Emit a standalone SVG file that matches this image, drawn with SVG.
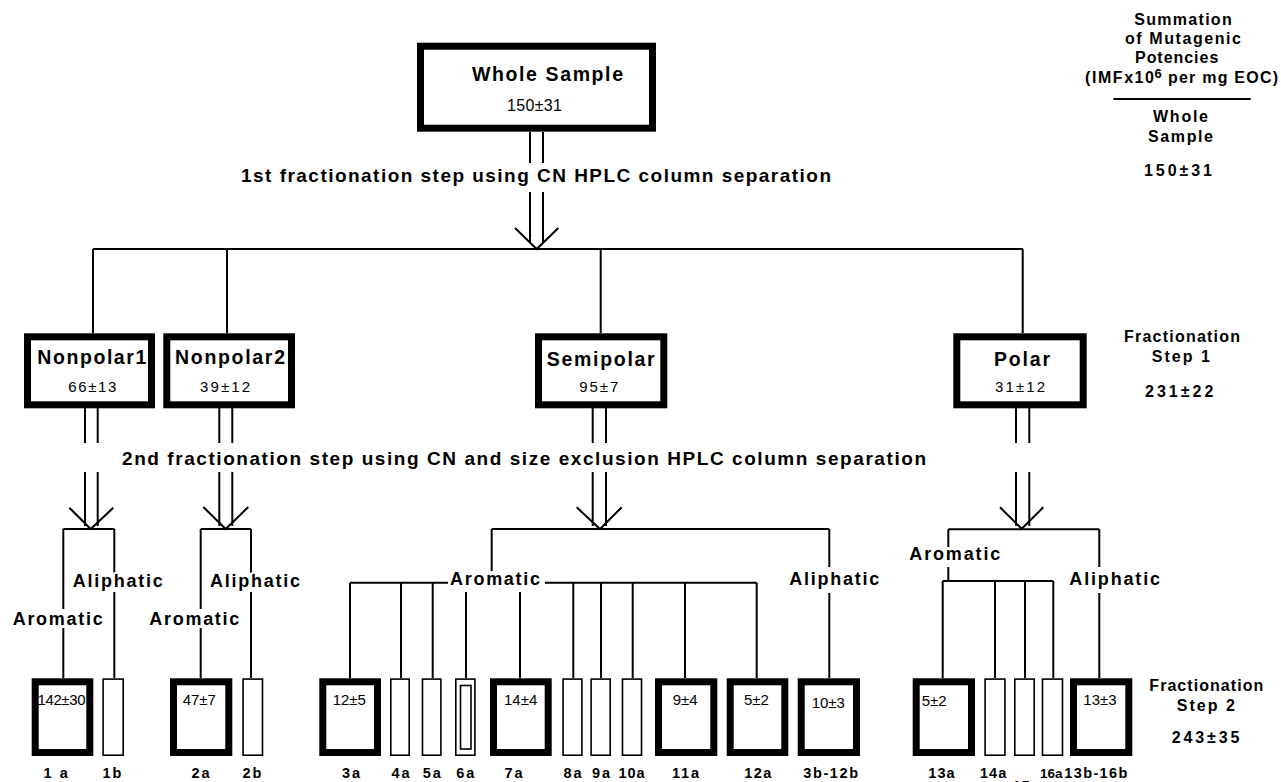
<svg xmlns="http://www.w3.org/2000/svg" width="1281" height="782" viewBox="0 0 1281 782">
<style>
.t{font-family:"Liberation Sans",Arial,Helvetica,sans-serif;fill:#000}
.b{font-weight:bold}
.tt{font-size:19.5px;font-weight:bold}
.st{font-size:19px;font-weight:bold}
.lb{font-size:18px;font-weight:bold}
.num{font-size:15px}
.sm{font-size:14.5px;font-weight:bold;letter-spacing:2px}
.rc{font-size:16px;font-weight:bold}
.h{paint-order:stroke;stroke:#fff;stroke-width:4px;stroke-linejoin:round}
.thick{fill:#fff;stroke:#000;stroke-width:7}
.thin{fill:#fff;stroke:#000;stroke-width:1.6}
.ln{stroke:#000;stroke-width:2;fill:none}
</style>
<rect width="1281" height="782" fill="#fff"/>

<g id="connectors" class="ln">
  <path d="M530 132V163M543 132V163M530 192V243M543 192V243"/>
  <polyline points="515,228 536.7,249 558.3,228"/>
  <path d="M93 249H1023"/>
  <path d="M93 249V333M227 249V333M600.7 249V333M1022.7 249V333"/>
  <path d="M85 408V443M97.7 408V443M85 472V526M97.7 472V526"/>
  <polyline points="69.3,507.7 90.7,529 113.3,507.7"/>
  <path d="M63.3 529H114.3M63.3 529V609M63.3 628V678M114.3 529V573M114.3 592V678"/>
  <path d="M219.3 408V443M232.3 408V443M219.3 472V526M232.3 472V526"/>
  <polyline points="203.3,507 225.7,529 248.3,507"/>
  <path d="M200.7 529H251M200.7 529V609M200.7 628V678M251 529V573M251 592V678"/>
  <path d="M592.7 408V443M606 408V443M592.7 472V526M606 472V526"/>
  <polyline points="576.7,507.3 600,529 621.7,507.3"/>
  <path d="M491.7 529H829.3M491.7 529V571"/>
  <path d="M350 582.7H448M545 582.7H756.7"/>
  <path d="M350 582.7V678M401 582.7V678M432.7 582.7V678M466 592V678M520 592V678M573.3 582.7V678M601 582.7V678M632.7 582.7V678M685 582.7V678M756.7 582.7V678"/>
  <path d="M829.3 529V567M829.3 593V678"/>
  <path d="M1016 408V443M1029.3 408V443M1016 472V526M1029.3 472V526"/>
  <polyline points="1000,507.3 1021.7,528.8 1043.3,507.3"/>
  <path d="M948.3 529.3H1099.3M948.3 529.3V547M948.3 567V581"/>
  <path d="M942.7 581H1053.3M942.7 581V678M995 581V678M1025 581V678M1053.3 581V678"/>
  <path d="M1099.3 529.3V567M1099.3 593V678"/>
</g>

<g id="step-labels">
  <text class="t st" x="241" y="182" textLength="590" lengthAdjust="spacing">1st fractionation step using CN HPLC column separation</text>
  <text class="t st" x="122" y="465" textLength="804" lengthAdjust="spacing">2nd fractionation step using CN and size exclusion HPLC column separation</text>
</g>

<g id="branch-labels">
  <text class="t lb h" x="72.7" y="587" textLength="90" lengthAdjust="spacing">Aliphatic</text>
  <text class="t lb h" x="12.7" y="625" textLength="90" lengthAdjust="spacing">Aromatic</text>
  <text class="t lb h" x="210" y="587" textLength="90" lengthAdjust="spacing">Aliphatic</text>
  <text class="t lb h" x="149.3" y="625" textLength="90" lengthAdjust="spacing">Aromatic</text>
  <text class="t lb h" x="450" y="585" textLength="90" lengthAdjust="spacing">Aromatic</text>
  <text class="t lb h" x="789.3" y="585" textLength="90" lengthAdjust="spacing">Aliphatic</text>
  <text class="t lb h" x="909.3" y="560" textLength="91" lengthAdjust="spacing">Aromatic</text>
  <text class="t lb h" x="1069.3" y="585" textLength="90.7" lengthAdjust="spacing">Aliphatic</text>
</g>

<g id="whole-sample">
  <rect class="thick" x="420.5" y="46.2" width="232" height="82"/>
  <text class="t tt" x="472" y="81" textLength="151" lengthAdjust="spacing">Whole Sample</text>
  <text class="t" style="font-size:16px" x="507" y="111" textLength="55" lengthAdjust="spacing">150±31</text>
</g>

<g id="nonpolar1">
  <rect class="thick" x="27.5" y="336.8" width="124" height="68"/>
  <text class="t tt" x="37.3" y="364" textLength="109" lengthAdjust="spacing">Nonpolar1</text>
  <text class="t num" x="68.3" y="391.7" textLength="48" lengthAdjust="spacing">66±13</text>
</g>
<g id="nonpolar2">
  <rect class="thick" x="166.8" y="336.8" width="124.7" height="68"/>
  <text class="t tt" x="175" y="364" textLength="110" lengthAdjust="spacing">Nonpolar2</text>
  <text class="t num" x="200" y="391.7" textLength="50" lengthAdjust="spacing">39±12</text>
</g>
<g id="semipolar">
  <rect class="thick" x="538.5" y="336.8" width="125.3" height="68"/>
  <text class="t tt" x="546.7" y="365.7" textLength="108" lengthAdjust="spacing">Semipolar</text>
  <text class="t num" x="579.3" y="392" textLength="39" lengthAdjust="spacing">95±7</text>
</g>
<g id="polar">
  <rect class="thick" x="956.8" y="336.8" width="126.4" height="68"/>
  <text class="t tt" x="994" y="365.7" textLength="56" lengthAdjust="spacing">Polar</text>
  <text class="t num" x="995" y="392" textLength="50" lengthAdjust="spacing">31±12</text>
</g>

<g id="f1a"><rect class="thick" x="35.2" y="681.8" width="54.6" height="70.7"/><text class="t num" x="37.5" y="705" textLength="48" lengthAdjust="spacing">142±30</text><text class="t sm" x="56.7" y="778" text-anchor="middle">1 a</text></g>
<g id="f1b"><rect class="thin" x="103.1" y="679.1" width="20.1" height="76.1"/><text class="t sm" x="113" y="778" text-anchor="middle">1b</text></g>
<g id="f2a"><rect class="thick" x="173.5" y="681.8" width="55.3" height="70.7"/><text class="t num" x="182.7" y="705">47±7</text><text class="t sm" x="201.5" y="778" text-anchor="middle">2a</text></g>
<g id="f2b"><rect class="thin" x="243.1" y="679.1" width="19.4" height="76.1"/><text class="t sm" x="253" y="778" text-anchor="middle">2b</text></g>
<g id="f3a"><rect class="thick" x="322.8" y="681.8" width="54.7" height="70.7"/><text class="t num" x="332.7" y="705">12±5</text><text class="t sm" x="352" y="778" text-anchor="middle">3a</text></g>
<g id="f4a"><rect class="thin" x="390.8" y="679.1" width="18.4" height="76.1"/><text class="t sm" x="401.5" y="778" text-anchor="middle">4a</text></g>
<g id="f5a"><rect class="thin" x="422.5" y="679.1" width="18.4" height="76.1"/><text class="t sm" x="432.7" y="778" text-anchor="middle">5a</text></g>
<g id="f6a"><rect class="thin" x="455.8" y="679.1" width="19.1" height="76.1"/><rect class="thin" x="460.5" y="685.5" width="10.5" height="63.5"/><text class="t sm" x="466.3" y="778" text-anchor="middle">6a</text></g>
<g id="f7a"><rect class="thick" x="493.5" y="681.8" width="54.7" height="70.7"/><text class="t num" x="504" y="705">14±4</text><text class="t sm" x="514.5" y="778" text-anchor="middle">7a</text></g>
<g id="f8a"><rect class="thin" x="563.1" y="679.1" width="18.8" height="76.1"/><text class="t sm" x="573.5" y="778" text-anchor="middle">8a</text></g>
<g id="f9a"><rect class="thin" x="591.1" y="679.1" width="19.1" height="76.1"/><text class="t sm" x="602" y="778" text-anchor="middle">9a</text></g>
<g id="f10a"><rect class="thin" x="622.5" y="679.1" width="19" height="76.1"/><text class="t sm" x="618.5" y="778" textLength="28" lengthAdjust="spacing">10a</text></g>
<g id="f11a"><rect class="thick" x="658.5" y="681.8" width="55.3" height="70.7"/><text class="t num" x="672.7" y="705">9±4</text><text class="t sm" x="672" y="778" textLength="29" lengthAdjust="spacing">11a</text></g>
<g id="f12a"><rect class="thick" x="730.2" y="681.8" width="54.6" height="70.7"/><text class="t num" x="744" y="705">5±2</text><text class="t sm" x="744.3" y="778" textLength="29" lengthAdjust="spacing">12a</text></g>
<g id="f3b-12b"><rect class="thick" x="801.2" y="681.8" width="55.3" height="70.7"/><text class="t num" x="811.7" y="708">10±3</text><text class="t sm" x="803.3" y="778" textLength="56.7" lengthAdjust="spacing">3b-12b</text></g>
<g id="f13a"><rect class="thick" x="916.2" y="681.8" width="55.3" height="70.7"/><text class="t num" x="921.7" y="706">5±2</text><text class="t sm" x="928.3" y="778" textLength="28.4" lengthAdjust="spacing">13a</text></g>
<g id="f14a"><rect class="thin" x="985.1" y="679.1" width="19.8" height="76.1"/><text class="t sm" x="980" y="778" textLength="28.3" lengthAdjust="spacing">14a</text></g>
<g id="f15a"><rect class="thin" x="1014.8" y="679.1" width="19.4" height="76.1"/><text class="t sm" x="1012.7" y="791" textLength="28" lengthAdjust="spacing">15a</text></g>
<g id="f16a"><rect class="thin" x="1042.5" y="679.1" width="20" height="76.1"/><text class="t b" style="font-size:13.5px" x="1051.3" y="778" text-anchor="middle">16a</text></g>
<g id="f13b-16b"><rect class="thick" x="1073.5" y="681.8" width="55.3" height="70.7"/><text class="t num" x="1083.3" y="705">13±3</text><text class="t sm" x="1064.3" y="778" textLength="65" lengthAdjust="spacing">13b-16b</text></g>

<g id="summary-column">
  <text class="t rc" x="1134.3" y="25" textLength="97.4" lengthAdjust="spacing">Summation</text>
  <text class="t rc" x="1125" y="44" textLength="116" lengthAdjust="spacing">of Mutagenic</text>
  <text class="t rc" x="1135" y="63.3" textLength="83.3" lengthAdjust="spacing">Potencies</text>
  <text class="t rc" x="1085" y="83.3" textLength="69" lengthAdjust="spacing">(IMFx10</text>
  <text class="t b" style="font-size:13px" x="1154.5" y="77.5">6</text>
  <text class="t rc" x="1168" y="83.3" textLength="110" lengthAdjust="spacing">per mg EOC)</text>
  <path d="M1113.3 99H1250.7" stroke="#000" stroke-width="2"/>
  <text class="t rc" x="1153" y="121.7" textLength="55" lengthAdjust="spacing">Whole</text>
  <text class="t rc" x="1148" y="141.7" textLength="65" lengthAdjust="spacing">Sample</text>
  <text class="t rc" x="1144" y="175.7" textLength="68" lengthAdjust="spacing">150±31</text>
  <text class="t rc" x="1124" y="341.7" textLength="116" lengthAdjust="spacing">Fractionation</text>
  <text class="t rc" x="1151.7" y="361.7" textLength="58.3" lengthAdjust="spacing">Step 1</text>
  <text class="t rc" x="1145" y="396.7" textLength="68.3" lengthAdjust="spacing">231±22</text>
  <text class="t rc" x="1149.3" y="690.7" textLength="114" lengthAdjust="spacing">Fractionation</text>
  <text class="t rc" x="1176.7" y="711" textLength="58.3" lengthAdjust="spacing">Step 2</text>
  <text class="t rc" x="1171.7" y="743.3" textLength="67.6" lengthAdjust="spacing">243±35</text>
</g>
</svg>
